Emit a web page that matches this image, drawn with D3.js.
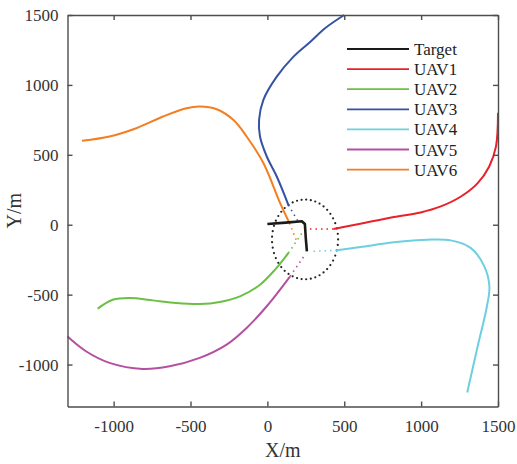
<!DOCTYPE html>
<html>
<head>
<meta charset="utf-8">
<script src="https://cdn.jsdelivr.net/npm/d3@7"></script>
<style>
  body { margin: 0; background: #fff; }
  svg text { font-family: "Liberation Serif", "Times New Roman", serif !important; }
</style>
</head>
<body>
<div id="chart"></div>
<script>
const xTicks = [-1000, -500, 0, 500, 1000, 1500];
const yTicks = [-1000, -500, 0, 500, 1000, 1500];

const target = [[0, 5], [120, 15], [224, 25], [244, 5], [250, -100], [257, -190]];

const uav1 = [[1500, 800], [1487, 560], [1443, 417], [1368, 298], [1259, 202], [1128, 131], [997, 88], [823, 55], [605, 7], [430, -31]];
const uav2 = [[-1104, -600], [-1006, -536], [-897, -524], [-745, -541], [-592, -560], [-440, -567], [-309, -552], [-178, -512], [-48, -429], [50, -321], [137, -202]];
const uav3 = [[500, 1500], [377, 1407], [280, 1309], [170, 1202], [61, 1059], [-26, 893], [-54, 750], [-48, 631], [-4, 488], [61, 345], [137, 140]];
const uav4 = [[1300, -1200], [1368, -869], [1428, -583], [1444, -440], [1411, -298], [1324, -167], [1193, -112], [1041, -107], [823, -126], [605, -160], [453, -183]];
const uav5 = [[-1300, -800], [-1180, -905], [-1027, -988], [-810, -1031], [-636, -1012], [-440, -952], [-265, -857], [-135, -738], [-4, -583], [148, -369]];
const uav6 = [[-1206, 600], [-1027, 631], [-853, 690], [-679, 774], [-526, 833], [-440, 845], [-330, 826], [-222, 750], [-135, 631], [-26, 441], [83, 155], [144, 12]];

// dotted tail of each UAV towards the target
const tail1 = [[430, -31], [266, -31]];
const tail2 = [[137, -202], [225, -60]];
const tail3 = [[137, 140], [200, 24]];
const tail4 = [[453, -183], [290, -190]];
const tail5 = [[148, -369], [245, -214]];
const tail6 = [[144, 12], [195, -130]];

const circleCenter = [245, -105];
const circleRadius = [215, 285];

const names = ['Target', 'UAV1', 'UAV2', 'UAV3', 'UAV4', 'UAV5', 'UAV6'];
const colors = ['#1a1a1a', '#e8212b', '#6bbf44', '#3652a5', '#6dcfe0', '#b4509f', '#f47e20'];

const width = 517;
const height = 464;
const mLeft = 67.5, mRight = 498, mTop = 15, mBottom = 406.5;

const svg = d3.select('#chart').append('svg')
  .attr('width', width)
  .attr('height', height);

const x = d3.scaleLinear().domain([-1300, 1500]).range([mLeft, mRight]);
const y = d3.scaleLinear().domain([-1300, 1500]).range([mBottom, mTop]);

const line = d3.line().x(d => x(d[0])).y(d => y(d[1])).curve(d3.curveCatmullRom);
const straight = d3.line().x(d => x(d[0])).y(d => y(d[1]));

// dotted circle
const circlePts = d3.range(0, 360, 8).map(a => [
  circleCenter[0] + circleRadius[0] * Math.cos(a * Math.PI / 180),
  circleCenter[1] + circleRadius[1] * Math.sin(a * Math.PI / 180)
]);
svg.append('g').selectAll('circle').data(circlePts).enter().append('circle')
  .attr('cx', d => x(d[0]))
  .attr('cy', d => y(d[1]))
  .attr('r', 1.1)
  .attr('fill', '#222');

const uavs = [uav1, uav2, uav3, uav4, uav5, uav6];
const tails = [tail1, tail2, tail3, tail4, tail5, tail6];

tails.forEach((t, i) => {
  svg.append('path')
    .attr('d', straight(t))
    .attr('fill', 'none')
    .attr('stroke', colors[i + 1])
    .attr('stroke-width', 1.6)
    .attr('stroke-dasharray', '1.5,4');
});

uavs.forEach((u, i) => {
  svg.append('path')
    .attr('d', line(u))
    .attr('fill', 'none')
    .attr('stroke', colors[i + 1])
    .attr('stroke-width', 2);
});

svg.append('path')
  .attr('d', straight(target))
  .attr('fill', 'none')
  .attr('stroke', colors[0])
  .attr('stroke-width', 2.6)
  .attr('stroke-linejoin', 'round');

// axes box
const axisColor = '#4d4d4d';
const fmt = d => String(d);
const gx = svg.append('g').attr('transform', `translate(0,${mBottom})`)
  .call(d3.axisBottom(x).tickValues(xTicks).tickSizeInner(-5).tickSizeOuter(0).tickPadding(13).tickFormat(fmt));
const gxTop = svg.append('g').attr('transform', `translate(0,${mTop})`)
  .call(d3.axisTop(x).tickValues(xTicks).tickSizeInner(-5).tickSizeOuter(0).tickFormat(''));
const gy = svg.append('g').attr('transform', `translate(${mLeft},0)`)
  .call(d3.axisLeft(y).tickValues(yTicks).tickSizeInner(-5).tickSizeOuter(0).tickPadding(9).tickFormat(fmt));
const gyRight = svg.append('g').attr('transform', `translate(${mRight},0)`)
  .call(d3.axisRight(y).tickValues(yTicks).tickSizeInner(-5).tickSizeOuter(0).tickFormat(''));

[gx, gxTop, gy, gyRight].forEach(g => {
  g.select('.domain').attr('stroke', axisColor).attr('stroke-width', 1.4);
  g.selectAll('.tick line').attr('stroke', axisColor).attr('stroke-width', 1.4);
  g.selectAll('.tick text').attr('fill', '#333').attr('font-size', 17);
});

svg.append('text')
  .attr('x', (mLeft + mRight) / 2)
  .attr('y', 457)
  .attr('text-anchor', 'middle')
  .attr('font-size', 20)
  .attr('fill', '#333')
  .text('X/m');

svg.append('text')
  .attr('transform', `translate(21,${(mTop + mBottom) / 2}) rotate(-90)`)
  .attr('text-anchor', 'middle')
  .attr('font-size', 20)
  .attr('fill', '#333')
  .text('Y/m');

// legend
const legend = svg.append('g').attr('transform', 'translate(347,49)');
const rows = legend.selectAll('g').data(names).enter().append('g')
  .attr('transform', (d, i) => `translate(0,${i * 20.1})`);
rows.append('line')
  .attr('x1', 0).attr('x2', 62)
  .attr('stroke', (d, i) => colors[i])
  .attr('stroke-width', (d, i) => i === 0 ? 2.2 : 1.8);
rows.append('text')
  .attr('x', 67)
  .attr('y', 6)
  .attr('font-size', 17)
  .attr('fill', '#222')
  .text(d => d);
</script>
</body>
</html>
